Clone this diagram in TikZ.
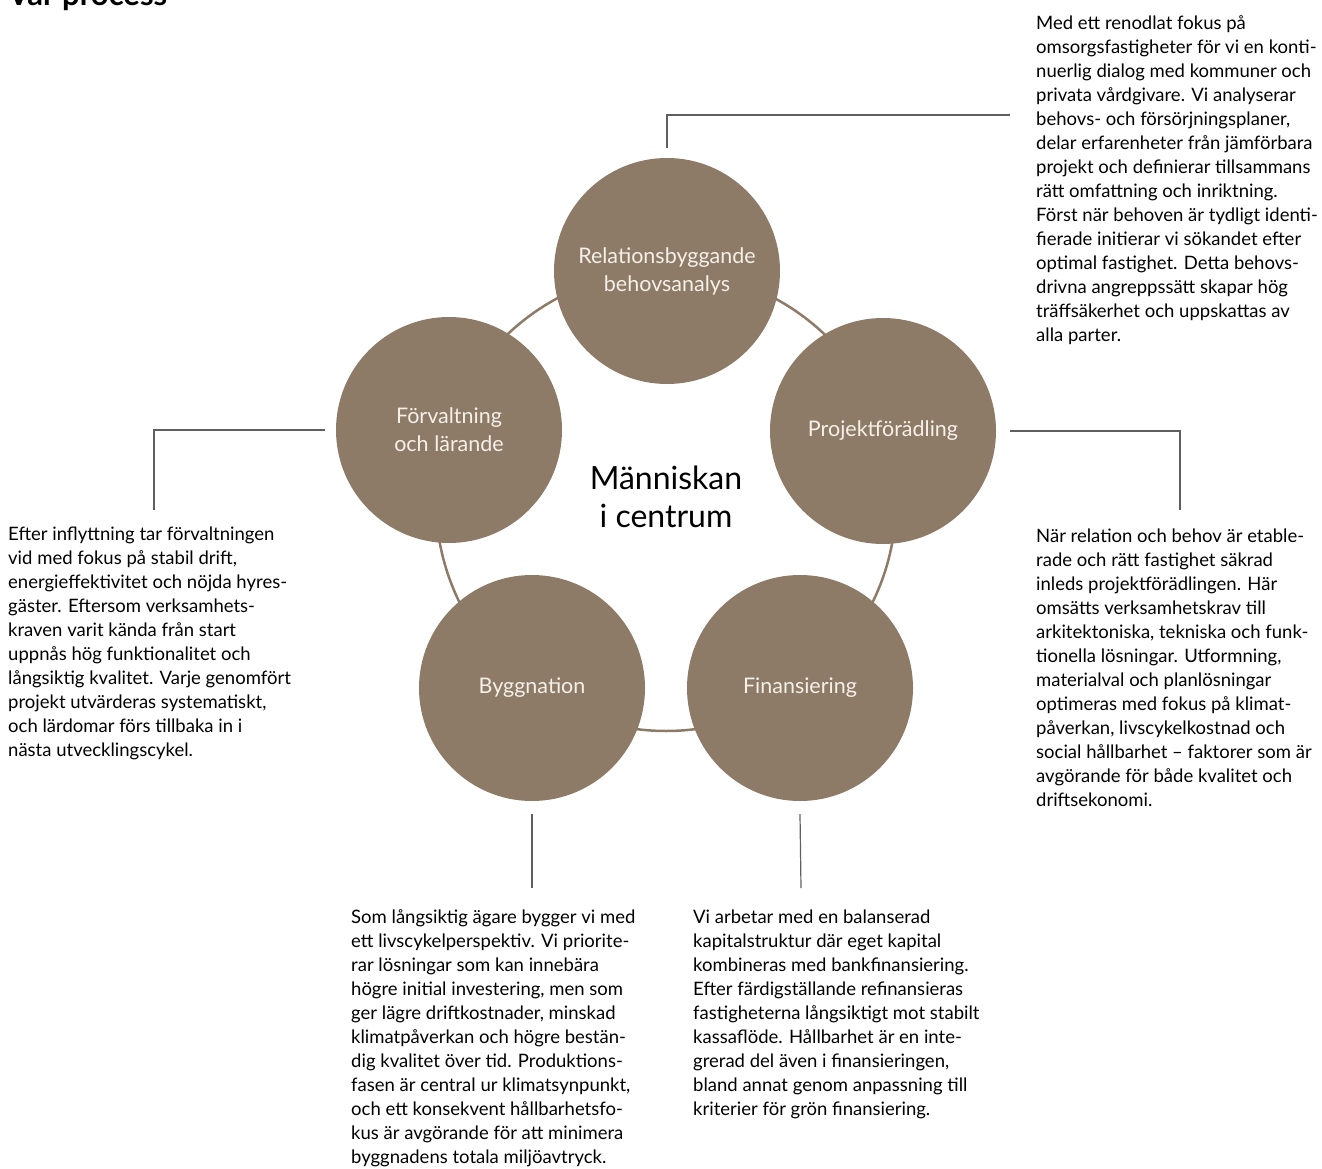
\documentclass[tikz,border=0pt]{standalone}
\usepackage{fontspec}
\setmainfont{Lato}
\definecolor{phase}{RGB}{141, 123, 104}
\definecolor{phasetext}{RGB}{245, 240, 232}
\definecolor{leader}{RGB}{95, 95, 95}
\tikzset{
	phasenode/.style={circle, fill=phase, text=phasetext, minimum size=226pt, inner sep=0pt, align=center, font=\fontsize{21.5}{28}\selectfont},
	infotext/.style={anchor=base west, inner sep=0pt, align=left, font=\fontsize{18.5}{24}\selectfont},
	leadline/.style={draw=leader, line width=1.2pt}
}
\begin{document}
		\begin{tikzpicture}[x=1pt, y=-1pt]
			\useasboundingbox (0, 0) rectangle (1322, 1169);
			\node[anchor=base west, inner sep=0pt, font=\fontsize{31}{34}\selectfont\bfseries] (title) at (8, 6) {Vår process};
			\draw[phase, line width=2.5pt] (666, 501) circle [radius=230pt];
			\node[phasenode] (relation) at (667, 271) {Relationsbyggande\\behovsanalys};
			\node[phasenode] (projekt) at (883, 431) {Projektförädling};
			\node[phasenode] (finans) at (800, 688) {Finansiering};
			\node[phasenode] (bygg) at (532, 688) {Byggnation};
			\node[phasenode] (forvalt) at (449, 430) {Förvaltning\\och lärande};
			\node[align=center, font=\fontsize{32}{38}\selectfont] (centrum) at (666, 497) {Människan\\i centrum};
			\node[infotext] (relationtext) at (1036, 341) {Med ett renodlat fokus på\\omsorgsfastigheter för vi en konti-\\nuerlig dialog med kommuner och\\privata vårdgivare. Vi analyserar\\behovs- och försörjningsplaner,\\delar erfarenheter från jämförbara\\projekt och definierar tillsammans\\rätt omfattning och inriktning.\\Först när behoven är tydligt identi-\\fierade initierar vi sökandet efter\\optimal fastighet. Detta behovs-\\drivna angreppssätt skapar hög\\träffsäkerhet och uppskattas av\\alla parter.};
			\node[infotext] (projekttext) at (1036, 806) {När relation och behov är etable-\\rade och rätt fastighet säkrad\\inleds projektförädlingen. Här\\omsätts verksamhetskrav till\\arkitektoniska, tekniska och funk-\\tionella lösningar. Utformning,\\materialval och planlösningar\\optimeras med fokus på klimat-\\påverkan, livscykelkostnad och\\social hållbarhet – faktorer som är\\avgörande för både kvalitet och\\driftsekonomi.};
			\node[infotext] (finanstext) at (693, 1115) {Vi arbetar med en balanserad\\kapitalstruktur där eget kapital\\kombineras med bankfinansiering.\\Efter färdigställande refinansieras\\fastigheterna långsiktigt mot stabilt\\kassaflöde. Hållbarhet är en inte-\\grerad del även i finansieringen,\\bland annat genom anpassning till\\kriterier för grön finansiering.};
			\node[infotext] (byggtext) at (351, 1163) {Som långsiktig ägare bygger vi med\\ett livscykelperspektiv. Vi priorite-\\rar lösningar som kan innebära\\högre initial investering, men som\\ger lägre driftkostnader, minskad\\klimatpåverkan och högre bestän-\\dig kvalitet över tid. Produktions-\\fasen är central ur klimatsynpunkt,\\och ett konsekvent hållbarhetsfo-\\kus är avgörande för att minimera\\byggnadens totala miljöavtryck.};
			\node[infotext] (forvalttext) at (8, 756) {Efter inflyttning tar förvaltningen\\vid med fokus på stabil drift,\\energieffektivitet och nöjda hyres-\\gäster. Eftersom verksamhets-\\kraven varit kända från start\\uppnås hög funktionalitet och\\långsiktig kvalitet. Varje genomfört\\projekt utvärderas systematiskt,\\och lärdomar förs tillbaka in i\\nästa utvecklingscykel.};
			\coordinate (relationend) at (1010, 115);
			\coordinate (projektend) at (1180, 510);
			\coordinate (finansend) at (801, 888);
			\coordinate (byggend) at (532, 888);
			\coordinate (forvaltend) at (154, 510);
			\draw[leadline] ([yshift=10pt]relation.north) |- (relationend);
			\draw[leadline] ([xshift=14pt]projekt.east) -| (projektend);
			\draw[leadline] ([yshift=-13pt]finans.south) -- (finansend);
			\draw[leadline] ([yshift=-13pt]bygg.south) -- (byggend);
			\draw[leadline] ([xshift=-11pt]forvalt.west) -| (forvaltend);
		\end{tikzpicture}
\end{document}
